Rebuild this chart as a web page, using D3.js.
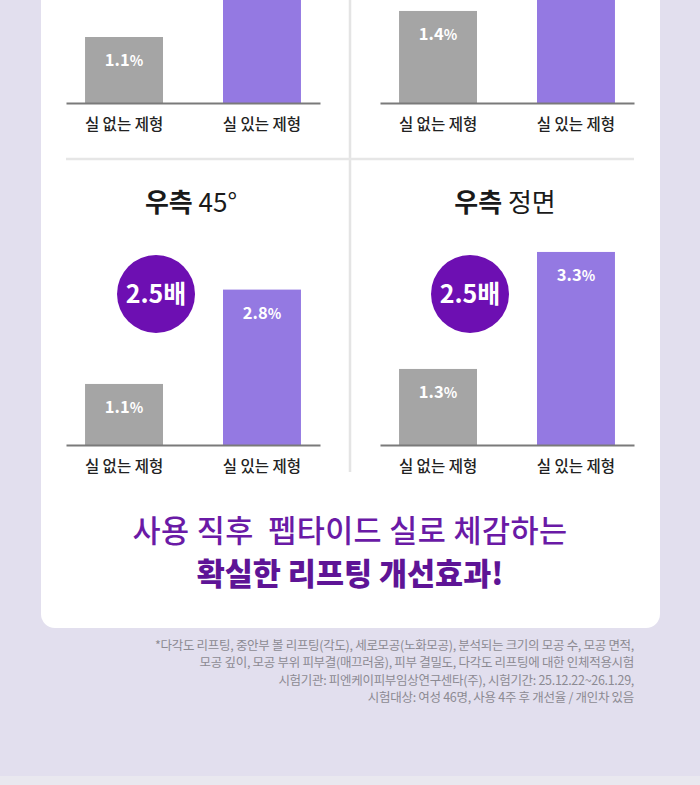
<!DOCTYPE html>
<html><head><meta charset="utf-8">
<script src="https://cdn.jsdelivr.net/npm/d3@7"></script>
<style>
html,body{margin:0;padding:0;background:#e2dfee;}
svg{display:block;font-family:"Noto Sans CJK KR","Noto Sans",sans-serif;}
</style></head>
<body>
<svg id="chart" width="700" height="785"></svg>
<script>
// ---- data ----
const categories = ["실 없는 제형", "실 있는 제형"];
const panelTitleBold = [null, null, "우측", "우측"];
const panelTitleRest = [null, null, " 45°", " 정면"];
const valuesWithout = [1.1, 1.4, 1.1, 1.3];
const valuesWith = [2.8, 3.0, 2.8, 3.3];
const ratioLabels = [null, null, "2.5배", "2.5배"];
const headline1 = "사용 직후  펩타이드 실로 체감하는";
const headline2 = "확실한 리프팅 개선효과!";
const footnotes = [
  "*다각도 리프팅, 중안부 볼 리프팅(각도), 세로모공(노화모공), 분석되는 크기의 모공 수, 모공 면적,",
  "모공 깊이, 모공 부위 피부결(매끄러움), 피부 결밀도, 다각도 리프팅에 대한 인체적용시험",
  "시험기관: 피엔케이피부임상연구센타(주), 시험기간: 25.12.22~26.1.29,",
  "시험대상: 여성 46명, 사용 4주 후 개선율 / 개인차 있음"
];

// ---- layout ----
const svg = d3.select("#chart");
const W = 700, H = 785;
const GRAY = "#a5a5a5", PURPLE = "#9479e2", DEEP = "#6d0fb2", HEAD = "#6a1aa6";

svg.append("rect").attr("width", W).attr("height", H).attr("fill", "#e2dfee");
svg.append("rect").attr("x", 0).attr("y", 776).attr("width", W).attr("height", 9).attr("fill", "#e9e8ef");
svg.append("rect").attr("x", 41).attr("y", -40).attr("width", 619).attr("height", 668)
  .attr("rx", 14).attr("fill", "#ffffff");

// dividers
svg.append("line").attr("x1", 350).attr("x2", 350).attr("y1", 0).attr("y2", 472)
  .attr("stroke", "#e4e4e4").attr("stroke-width", 2.5);
svg.append("line").attr("x1", 66).attr("x2", 634).attr("y1", 159).attr("y2", 159)
  .attr("stroke", "#e6e6e6").attr("stroke-width", 2.5);

// panel geometry (layout only)
const panels = [
  {x0: 66, x1: 320, base: 103, pxMax: 240},
  {x0: 380, x1: 634, base: 103, pxMax: 263},
  {x0: 66, x1: 320, base: 445, pxMax: 222},
  {x0: 380, x1: 634, base: 445, pxMax: 234}
];

panels.forEach((p, i) => {
  const g = svg.append("g");
  const x = d3.scaleBand().domain(categories).range([p.x0, p.x1])
    .paddingInner(0.435).paddingOuter(0.138);
  const y = d3.scaleLinear().domain([0, 4]).range([p.base, p.base - p.pxMax]);
  const vals = [valuesWithout[i], valuesWith[i]];
  const data = categories.map((c, k) => ({c, v: vals[k], k}));

  g.selectAll("rect.bar").data(data).join("rect").attr("class", "bar")
    .attr("x", d => x(d.c)).attr("width", x.bandwidth())
    .attr("y", d => y(d.v)).attr("height", d => y(0) - y(d.v))
    .attr("fill", d => d.k === 0 ? GRAY : PURPLE);

  // value labels (only those that fall inside the visible frame)
  const vt = g.selectAll("text.val").data(data.filter(d => y(d.v) + 12 > 0))
    .join("text").attr("class", "val")
    .attr("x", d => x(d.c) + x.bandwidth() / 2).attr("y", d => y(d.v) + 29)
    .attr("text-anchor", "middle").attr("fill", "#ffffff")
    .attr("font-size", 16.5).attr("font-weight", 700);
  vt.append("tspan").text(d => d.v.toFixed(1));
  vt.append("tspan").attr("font-size", 14).text("%");

  // axis baseline + category labels
  const ax = g.append("g").attr("transform", `translate(0,${p.base})`)
    .call(d3.axisBottom(x).tickSize(0).tickPadding(16));
  ax.select(".domain").attr("stroke", "#7a7a7a").attr("stroke-width", 2);
  ax.selectAll("text").attr("font-size", 15.5).attr("font-weight", 500)
    .attr("fill", "#222").attr("font-family", "'Noto Sans CJK KR',sans-serif");

  if (panelTitleBold[i]) {
    const cx = (p.x0 + p.x1) / 2;
    const t = g.append("text").attr("x", cx - 2).attr("y", p.base - 233)
      .attr("text-anchor", "middle").attr("font-size", 26).attr("fill", "#1a1a1a");
    t.append("tspan").attr("font-weight", 700).text(panelTitleBold[i]);
    t.append("tspan").attr("font-weight", 400).text(panelTitleRest[i]);
  }
  if (ratioLabels[i]) {
    const cx = x(categories[0]) + x.bandwidth() / 2 + 32;
    const cy = p.base - 151;
    g.append("circle").attr("cx", cx).attr("cy", cy).attr("r", 39).attr("fill", DEEP);
    g.append("text").attr("x", cx).attr("y", cy + 9).attr("text-anchor", "middle")
      .attr("fill", "#fff").attr("font-size", 25).attr("font-weight", 700)
      .text(ratioLabels[i]);
  }
});

// headline
svg.append("text").attr("x", 350).attr("y", 542).attr("text-anchor", "middle")
  .attr("fill", HEAD).attr("font-size", 30.5).attr("font-weight", 500)
  .attr("letter-spacing", 0.4)
  .style("white-space", "pre").text(headline1);
svg.append("text").attr("x", 350).attr("y", 585).attr("text-anchor", "middle")
  .attr("fill", "#5e1496").attr("font-size", 30.5).attr("font-weight", 900).text(headline2);

// footnotes
svg.selectAll("text.fn").data(footnotes).join("text").attr("class", "fn")
  .attr("x", 634).attr("y", (d, i) => 650 + i * 17.3)
  .attr("text-anchor", "end").attr("fill", "#8c8a92").attr("font-size", 12.5)
  .attr("letter-spacing", -0.3)
  .text(d => d);
</script>
</body></html>
